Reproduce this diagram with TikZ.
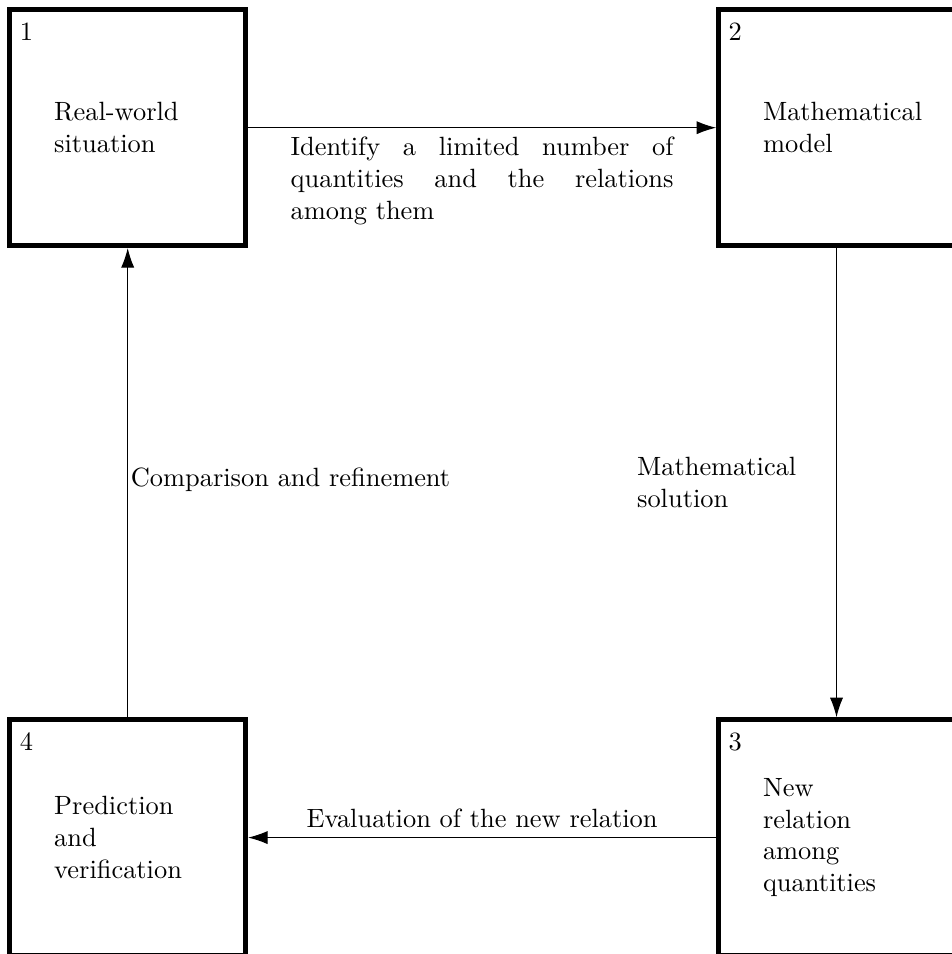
\documentclass[tikz,border=0pt]{standalone}
\usepackage{amsmath}
\usetikzlibrary{arrows.meta,positioning}

\begin{document}
\begin{tikzpicture}[>={Latex[length=2.6mm,width=1.75mm]},
  stage/.style={draw,line width=1.9pt,minimum size=3.138cm,inner sep=0pt},
  stagenum/.style={anchor=north west,inner xsep=1.6mm,inner ysep=2mm},
  stagetext/.style={align=left}]
\useasboundingbox (0,0) rectangle (12.66,-12.70);
\node[stage] (real) at (1.70,-1.70) {};
\node[stage] (model) at (11.136,-1.70) {};
\node[stage] (newrel) at (11.136,-11.15) {};
\node[stage] (pred) at (1.70,-11.15) {};
% step numbers
\node[stagenum] (n1) at (real.north west) {1};
\node[stagenum] (n2) at (model.north west) {2};
\node[stagenum] (n3) at (newrel.north west) {3};
\node[stagenum] (n4) at (pred.north west) {4};
% box texts
\node[stagetext,right=0.5cm of real.west] (t1) {Real-world\\situation};
\node[stagetext,right=0.5cm of model.west] (t2) {Mathematical\\model};
\node[stagetext,right=0.5cm of newrel.west] (t3) {New\\relation\\among\\quantities};
\node[stagetext,right=0.5cm of pred.west] (t4) {Prediction\\and\\verification};
% cycle
\draw[->] (real) -- (model) node[midway,below,text width=145pt,align=justify] (l12) {Identify a limited number of quantities and the relations among them};
\draw[->] (model) -- (newrel) node[midway,left,text width=2.53cm,align=left] (l23) {Mathematical\\solution};
\draw[->] (newrel) -- (pred) node[midway,above] (l34) {Evaluation of the new relation};
\draw[->] (pred) -- (real) node[midway,right,inner xsep=1pt,yshift=1pt] (l41) {Comparison and refinement};
\end{tikzpicture}
\end{document}
